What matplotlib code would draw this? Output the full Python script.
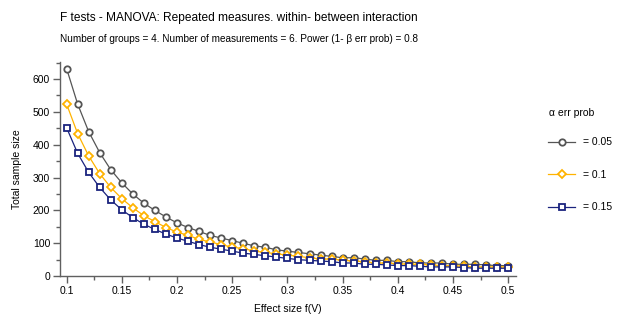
import matplotlib
matplotlib.use("Agg")
import matplotlib.pyplot as plt
from matplotlib.ticker import MultipleLocator
from matplotlib.lines import Line2D

plt.rcParams['font.family'] = ['Liberation Sans', 'DejaVu Sans']

effect_size = [0.10, 0.11, 0.12, 0.13, 0.14, 0.15, 0.16, 0.17, 0.18, 0.19,
               0.20, 0.21, 0.22, 0.23, 0.24, 0.25, 0.26, 0.27, 0.28, 0.29,
               0.30, 0.31, 0.32, 0.33, 0.34, 0.35, 0.36, 0.37, 0.38, 0.39,
               0.40, 0.41, 0.42, 0.43, 0.44, 0.45, 0.46, 0.47, 0.48, 0.49, 0.50]

n_alpha_005 = [632, 524, 440, 376, 324, 284, 250, 222, 200, 180,
               162, 148, 136, 124, 116, 108, 100, 92, 88, 80,
               76, 72, 68, 64, 60, 56, 56, 52, 48, 48,
               44, 44, 40, 40, 40, 36, 36, 36, 34, 32, 32]
n_alpha_010 = [524, 434, 366, 312, 270, 236, 208, 184, 166, 148,
               134, 124, 112, 104, 96, 88, 84, 76, 72, 68,
               64, 60, 56, 52, 52, 48, 46, 44, 40, 40,
               38, 36, 36, 34, 32, 32, 30, 28, 28, 28, 28]
n_alpha_015 = [452, 374, 316, 270, 232, 202, 178, 158, 142, 128,
               116, 106, 96, 88, 82, 76, 70, 66, 62, 58,
               54, 50, 48, 46, 44, 40, 40, 36, 36, 34,
               32, 32, 30, 28, 28, 28, 26, 24, 24, 24, 24]

series_labels = ["= 0.05", "= 0.1", "= 0.15"]
legend_title = "α err prob"

colors = ["#555555", "#FFB300", "#1A237E"]
markers = ["o", "D", "s"]
msizes = [4.6, 3.8, 4.6]

fig = plt.figure(figsize=(6.18, 3.26), dpi=100)
ax = fig.add_axes([0.097, 0.153, 0.738, 0.657])

series = [n_alpha_005, n_alpha_010, n_alpha_015]
for vals, c, m, ms in zip(series, colors, markers, msizes):
    ax.plot(effect_size, vals, color=c, lw=0.9, marker=m, ms=ms,
            mfc='white', mec=c, mew=1.3, zorder=3)

ax.set_xlim(0.094, 0.507)
ax.set_ylim(0, 652)
ax.xaxis.set_minor_locator(MultipleLocator(0.025))
ax.yaxis.set_major_locator(MultipleLocator(100))
ax.yaxis.set_minor_locator(MultipleLocator(50))
ax.set_xticks([0.1, 0.15, 0.2, 0.25, 0.3, 0.35, 0.4, 0.45, 0.5])
ax.set_xticklabels(["0.1", "0.15", "0.2", "0.25", "0.3", "0.35", "0.4", "0.45", "0.5"])

for s in ['top', 'right']:
    ax.spines[s].set_visible(False)
for s in ['left', 'bottom']:
    ax.spines[s].set_color('#606060')
    ax.spines[s].set_linewidth(1.0)
ax.tick_params(which='major', length=5, width=1.0, color='#606060', labelsize=7.5, pad=2)
ax.tick_params(which='minor', length=3, width=1.0, color='#606060')

ax.set_xlabel("Effect size f(V)", fontsize=7.5, labelpad=6)
ax.set_ylabel("Total sample size", fontsize=7.5, labelpad=8)

fig.text(0.097, 0.935, "F tests - MANOVA: Repeated measures. within- between interaction",
         fontsize=8.6, ha='left', va='baseline')
fig.text(0.097, 0.872, "Number of groups = 4. Number of measurements = 6. Power (1- β err prob) = 0.8",
         fontsize=7.2, ha='left', va='baseline')

fig.text(549 / 618, 1 - 113 / 326, legend_title, fontsize=7.5, ha='left', va='center')
handles = [Line2D([0], [0], color=c, lw=0.9, marker=m, ms=ms, mfc='white', mec=c, mew=1.3)
           for c, m, ms in zip(colors, markers, msizes)]
leg = fig.legend(handles, series_labels, loc='upper left',
                 bbox_to_anchor=(0.872, 1 - 128 / 326), frameon=False, fontsize=7.5,
                 handlelength=2.6, labelspacing=2.15, handletextpad=0.7)

fig.savefig("out.png", dpi=100)
